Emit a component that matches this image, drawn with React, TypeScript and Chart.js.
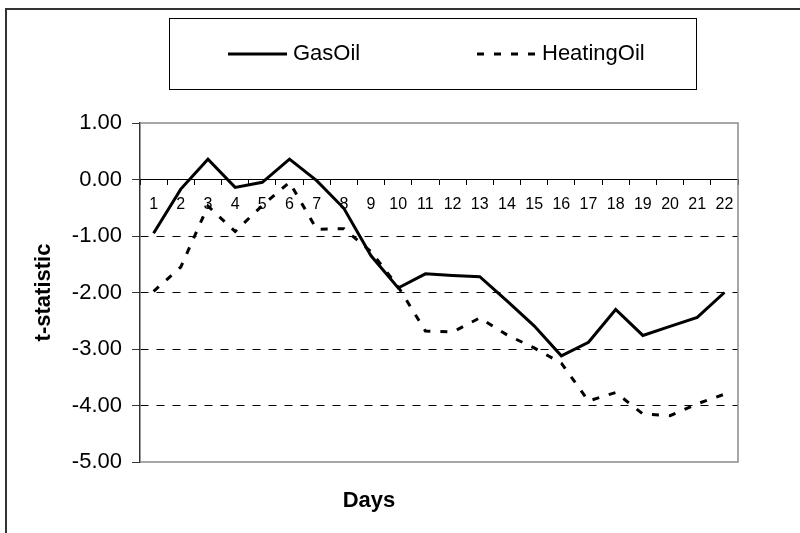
import { useEffect, useRef } from 'react';
import { Chart, registerables } from 'chart.js';

Chart.register(...registerables);

const days = ['1', '2', '3', '4', '5', '6', '7', '8', '9', '10', '11', '12', '13', '14', '15', '16', '17', '18', '19', '20', '21', '22'];
const gasOil = [-0.95, -0.17, 0.36, -0.14, -0.05, 0.36, -0.02, -0.51, -1.35, -1.92, -1.67, -1.7, -1.72, -2.15, -2.59, -3.12, -2.88, -2.3, -2.76, -2.6, -2.44, -2.0];
const heatingOil = [-1.98, -1.55, -0.47, -0.92, -0.46, -0.05, -0.88, -0.87, -1.28, -1.9, -2.68, -2.7, -2.45, -2.75, -2.98, -3.25, -3.92, -3.77, -4.15, -4.18, -3.97, -3.8];
const seriesNames = ['GasOil', 'HeatingOil'];
const yMin = -5;
const yMax = 1;
const yStep = 1;
const yTitle = 't-statistic';
const xTitle = 'Days';

const FONT = "'Liberation Sans', Arial, Helvetica, sans-serif";

const framePlugin = {
  id: 'frame',
  beforeDraw(chart: any) {
    const { ctx } = chart;
    ctx.save();
    ctx.strokeStyle = '#333';
    ctx.lineWidth = 2;
    ctx.beginPath();
    ctx.moveTo(6, 540);
    ctx.lineTo(6, 9);
    ctx.lineTo(810, 9);
    ctx.stroke();
    ctx.restore();
  },
  beforeDatasetsDraw(chart: any) {
    const { ctx, chartArea } = chart;
    const { left, right, top, bottom } = chartArea;
    ctx.save();
    ctx.strokeStyle = '#8a8a8a';
    ctx.lineWidth = 1.5;
    ctx.beginPath();
    ctx.moveTo(left, top);
    ctx.lineTo(right, top);
    ctx.lineTo(right, bottom);
    ctx.lineTo(left, bottom);
    ctx.stroke();
    ctx.restore();
  },
};

const legendBoxPlugin = {
  id: 'legendBox',
  afterDraw(chart: any) {
    const { ctx } = chart;
    ctx.save();
    ctx.strokeStyle = '#000';
    ctx.lineWidth = 1;
    ctx.setLineDash([]);
    ctx.strokeRect(169.5, 18.5, 527, 71);
    const starts = [228, 477];
    const cy = 54;
    chart.data.datasets.forEach((ds: any, i: number) => {
      const x0 = starts[i];
      ctx.beginPath();
      ctx.setLineDash(ds.borderDash || []);
      ctx.lineWidth = ds.borderWidth;
      ctx.strokeStyle = ds.borderColor;
      ctx.lineCap = 'butt';
      ctx.moveTo(x0, cy);
      ctx.lineTo(x0 + 59, cy);
      ctx.stroke();
      ctx.setLineDash([]);
      ctx.fillStyle = '#000';
      ctx.font = `22px ${FONT}`;
      ctx.textBaseline = 'middle';
      ctx.textAlign = 'left';
      ctx.fillText(ds.label, x0 + 65, cy);
    });
    ctx.restore();
  },
};

export default function App() {
  const ref = useRef<HTMLCanvasElement | null>(null);

  useEffect(() => {
    if (!ref.current) return;
    const chart = new Chart(ref.current, {
      type: 'line',
      data: {
        labels: days,
        datasets: [
          {
            label: seriesNames[0],
            data: gasOil,
            borderColor: '#000',
            backgroundColor: '#000',
            borderWidth: 3,
            pointRadius: 0,
            tension: 0,
            fill: false,
          },
          {
            label: seriesNames[1],
            data: heatingOil,
            borderColor: '#000',
            backgroundColor: '#000',
            borderWidth: 3,
            borderDash: [7, 10],
            pointRadius: 0,
            tension: 0,
            fill: false,
          },
        ],
      },
      options: {
        responsive: false,
        devicePixelRatio: 1,
        animation: false,
        layout: { padding: { top: 123, right: 62, bottom: 0.6, left: 0 } },
        plugins: {
          legend: { display: false },
          tooltip: { enabled: false },
          title: {
            display: true,
            position: 'bottom',
            text: xTitle,
            color: '#000',
            font: { family: FONT, size: 22, weight: 'bold' },
            padding: { top: 26, bottom: 18 },
          },
        },
        scales: {
          x: {
            type: 'category',
            position: { y: 0 } as any,
            offset: true,
            grid: {
              offset: true,
              drawOnChartArea: false,
              drawTicks: true,
              tickLength: 5,
              tickColor: '#000',
              tickWidth: 1,
            },
            border: { display: true, color: '#000', width: 1 },
            ticks: {
              color: '#000',
              font: { family: FONT, size: 16 },
              padding: 10,
              maxRotation: 0,
              minRotation: 0,
              autoSkip: false,
            },
          },
          y: {
            type: 'linear',
            min: yMin,
            max: yMax,
            afterFit: (s: any) => {
              s.width = 140;
            },
            grid: {
              color: (c: any) => {
                const v = c.tick ? c.tick.value : null;
                return v === 0 || v === yMin || v === yMax ? 'rgba(0,0,0,0)' : '#000';
              },
              lineWidth: 1,
              drawTicks: true,
              tickLength: 8,
              tickColor: '#333',
              tickWidth: 1,
              tickBorderDash: [],
            },
            border: {
              display: true,
              color: '#333',
              width: 1.5,
              dash: [8, 8],
            },
            ticks: {
              stepSize: yStep,
              color: '#000',
              font: { family: FONT, size: 22 },
              padding: 10,
              callback: (v: any) => Number(v).toFixed(2),
            },
            title: {
              display: true,
              text: yTitle,
              color: '#000',
              font: { family: FONT, size: 22, weight: 'bold' },
              padding: { top: 31, bottom: 0 },
            },
          },
        },
      },
      plugins: [framePlugin, legendBoxPlugin],
    } as any);
    return () => chart.destroy();
  }, []);

  return (
    <canvas
      ref={ref}
      width={800}
      height={533}
      style={{ position: 'absolute', left: 0, top: 0, width: 800, height: 533 }}
    />
  );
}
